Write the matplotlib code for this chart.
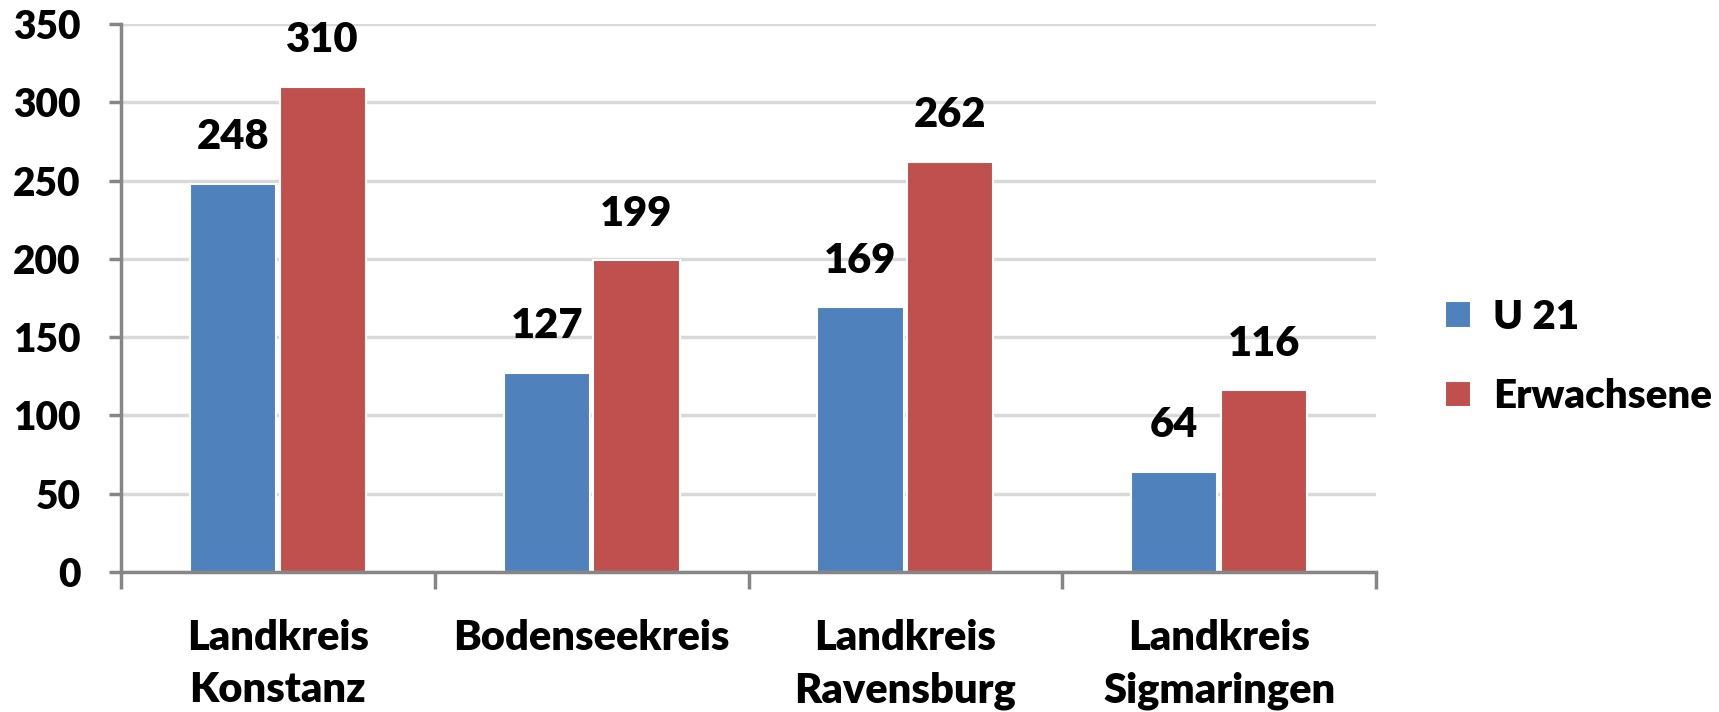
import numpy as np
import matplotlib.pyplot as plt

categories = ['Landkreis\nKonstanz', 'Bodenseekreis', 'Landkreis\nRavensburg', 'Landkreis\nSigmaringen']
u21 = [248, 127, 169, 64]
erwachsene = [310, 199, 262, 116]
series_names = ['U 21', 'Erwachsene']
colors = ['#4F81BD', '#C0504D']

plt.rcParams['font.family'] = ['Lato', 'DejaVu Sans']
plt.rcParams['font.weight'] = 'heavy'
W = 'heavy'

fig = plt.figure(figsize=(17.19, 7.12), dpi=100)
ax = fig.add_axes([121 / 1719, 1 - 572 / 712, (1376 - 121) / 1719, (572 - 24) / 712])

x = np.arange(len(categories))
w = 0.275
off = 0.143
b1 = ax.bar(x - off, u21, w, color=colors[0], edgecolor='white', linewidth=1.5, label=series_names[0], zorder=3)
b2 = ax.bar(x + off, erwachsene, w, color=colors[1], edgecolor='white', linewidth=1.5, label=series_names[1], zorder=3)

for bars in (b1, b2):
    for r in bars:
        ax.annotate(str(int(r.get_height())), (r.get_x() + r.get_width() / 2, r.get_height()),
                    xytext=(0, 20), textcoords='offset points', ha='center', va='bottom',
                    fontsize=30, fontweight=W)

ax.set_xlim(-0.5, 3.5)
ax.set_ylim(0, 350)
ax.set_yticks(np.arange(0, 351, 50))
ax.set_xticks(np.arange(-0.5, 3.6, 1))
ax.set_xticklabels([])
ax.set_xticks(x, minor=True)
ax.set_xticklabels(categories, minor=True, fontsize=30, fontweight=W, linespacing=1.45, va='top')
ax.tick_params(axis='x', which='minor', length=0, pad=34)
ax.tick_params(axis='x', which='major', length=12, width=2.5, color='#868686')
ax.tick_params(axis='y', length=9, width=2.5, color='#868686', pad=20, labelsize=28)
for t in ax.get_yticklabels():
    t.set_fontweight(W)

ax.yaxis.grid(True, color='#D9D9D9', linewidth=2.5, zorder=0)
ax.set_axisbelow(True)
for s in ('top', 'right'):
    ax.spines[s].set_visible(False)
for s in ('left', 'bottom'):
    ax.spines[s].set_color('#868686')
    ax.spines[s].set_linewidth(2.5)
ax.spines['bottom'].set_zorder(4)

ax.legend(loc='center left', bbox_to_anchor=(1425 / 1719, 1 - 357 / 712), bbox_transform=fig.transFigure,
          frameon=False, handlelength=0.65, handleheight=0.65, handletextpad=0.55,
          labelspacing=1.05, borderpad=0, prop={'weight': W, 'size': 29})

fig.savefig('out.png', dpi=100)
